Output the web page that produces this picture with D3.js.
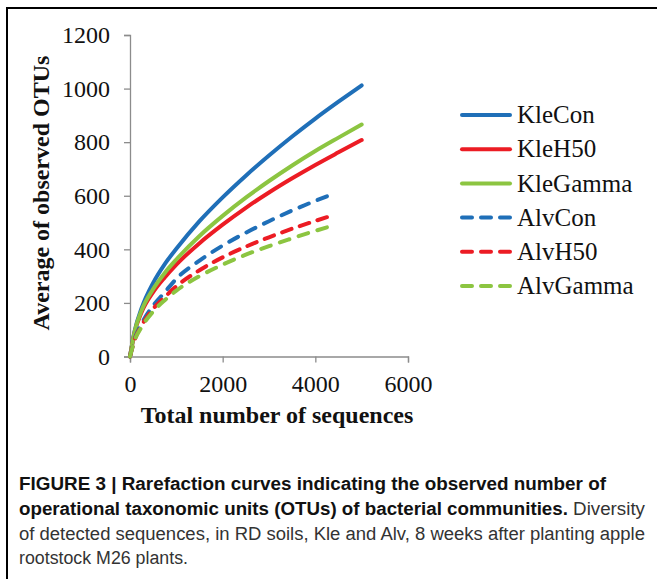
<!DOCTYPE html>
<html><head><meta charset="utf-8">
<script src="https://cdn.jsdelivr.net/npm/d3@7"></script>
<style>
html,body{margin:0;padding:0;background:#fff;}
svg{display:block;}
</style></head>
<body>
<script>
// ---- data ----
const kleSeq = [0,100,250,500,750,1000,1500,2000,2500,3000,3500,4000,4500,5000];
const alvSeq = [0,100,250,500,750,1000,1500,2000,2500,3000,3500,4000,4250];
const kleCon   = [0,95,180,275,345,402,505,594,675,750,821,888,951,1012];
const kleH50   = [0,90,165,240,295,343,423,492,555,612,665,715,762,808];
const kleGamma = [0,93,172,252,312,362,450,525,593,655,713,767,817,866];
const alvCon   = [0,65,122,190,240,290,358,414,462,505,545,581,598];
const alvH50   = [0,62,115,178,222,262,322,370,410,445,477,506,520];
const alvGamma = [0,60,110,168,210,246,300,343,380,412,441,469,482];
const seriesNames = ["KleCon","KleH50","KleGamma","AlvCon","AlvH50","AlvGamma"];
const seriesColors = ["#1f6fb8","#ec1c24","#8cc541","#1f6fb8","#ec1c24","#8cc541"];
const seriesDashed = [false,false,false,true,true,true];
const seriesX = [kleSeq,kleSeq,kleSeq,alvSeq,alvSeq,alvSeq];
const seriesY = [kleCon,kleH50,kleGamma,alvCon,alvH50,alvGamma];
const xTicks = [0,2000,4000,6000];
const yTicks = [0,200,400,600,800,1000,1200];
const xTitle = "Total number of sequences";
const yTitle = "Average of observed OTUs";
const captionLines = [
  [{t:"FIGURE 3 | Rarefaction curves indicating the observed number of", b:true}],
  [{t:"operational taxonomic units (OTUs) of bacterial communities.", b:true},{t:" Diversity", b:false}],
  [{t:"of detected sequences, in RD soils, Kle and Alv, 8 weeks after planting apple", b:false}],
  [{t:"rootstock M26 plants.", b:false}]
];

const W = 657, H = 579;
const svg = d3.select("body").append("svg").attr("width", W).attr("height", H);

// frame lines
svg.append("line").attr("x1",7).attr("y1",8).attr("x2",W).attr("y2",8).attr("stroke","#000").attr("stroke-width",2);
svg.append("line").attr("x1",7).attr("y1",7).attr("x2",7).attr("y2",H).attr("stroke","#000").attr("stroke-width",2);

const serif = "'Liberation Serif','Times New Roman',serif";
const x = d3.scaleLinear().domain([0,6000]).range([130,408]);
const y = d3.scaleLinear().domain([0,1200]).range([356.5,35]);

const axisColor = "#8c8c8c";
const gx = svg.append("g").attr("transform",`translate(0,${y(0)})`)
  .call(d3.axisBottom(x).tickValues(xTicks).tickSize(6).tickPadding(12).tickFormat(d3.format("d")));
const gy = svg.append("g").attr("transform",`translate(${x(0)},0)`)
  .call(d3.axisLeft(y).tickValues(yTicks).tickSize(6).tickPadding(14).tickFormat(d3.format("d")));
[gx,gy].forEach(g=>{
  g.selectAll("path,line").attr("stroke",axisColor).attr("stroke-width",1.3);
  g.selectAll("text").attr("font-family",serif).attr("font-size",24).attr("fill","#111");
});

// lines
const line = d3.line().x(d=>x(d[0])).y(d=>y(d[1])).curve(d3.curveMonotoneX);
seriesNames.forEach((n,i)=>{
  const pts = seriesX[i].map((s,j)=>[s,seriesY[i][j]]);
  const p = svg.append("path").datum(pts).attr("d",line)
    .attr("fill","none").attr("stroke",seriesColors[i]).attr("stroke-width",4)
    .attr("stroke-linecap","round");
  if (seriesDashed[i]) {
    const L = p.node().getTotalLength();
    const d = 10;
    const n = Math.max(2, Math.round((L + 9) / 19));
    const g = (L - n * d) / (n - 1);
    p.attr("stroke-dasharray", `${d},${g.toFixed(2)}`);
  }
});

// axis titles
svg.append("text").attr("x",277).attr("y",423).attr("text-anchor","middle")
  .attr("font-family",serif).attr("font-weight","bold").attr("font-size",24).attr("fill","#111").text(xTitle);
svg.append("text").attr("transform","translate(49,193) rotate(-90)").attr("text-anchor","middle")
  .attr("font-family",serif).attr("font-weight","bold").attr("font-size",24).attr("fill","#111").text(yTitle);

// legend
const lg = svg.append("g");
seriesNames.forEach((n,i)=>{
  const yy = 115 + i*34.2;
  lg.append("line").attr("x1",462).attr("x2",510).attr("y1",yy).attr("y2",yy)
    .attr("stroke",seriesColors[i]).attr("stroke-width",4).attr("stroke-linecap","round")
    .attr("stroke-dasharray", seriesDashed[i] ? "10,9" : null);
  lg.append("text").attr("x",517).attr("y",yy).attr("dy","0.33em")
    .attr("font-family",serif).attr("font-size",25).attr("fill","#111").text(n);
});

// caption
const capWidths = [587, 626, 626, 169];
const capY = [490, 515, 540, 564];
captionLines.forEach((parts,i)=>{
  const t = svg.append("text").attr("x",19).attr("y",capY[i])
    .attr("font-family","'Liberation Sans',Arial,sans-serif").attr("font-size",18).attr("fill","#222");
  parts.forEach(p=>{
    t.append("tspan").attr("font-weight",p.b?"bold":"normal").attr("fill", p.b?"#111":"#333").text(p.t);
  });
  t.attr("textLength",capWidths[i]).attr("lengthAdjust","spacingAndGlyphs");
});
</script>
</body></html>
